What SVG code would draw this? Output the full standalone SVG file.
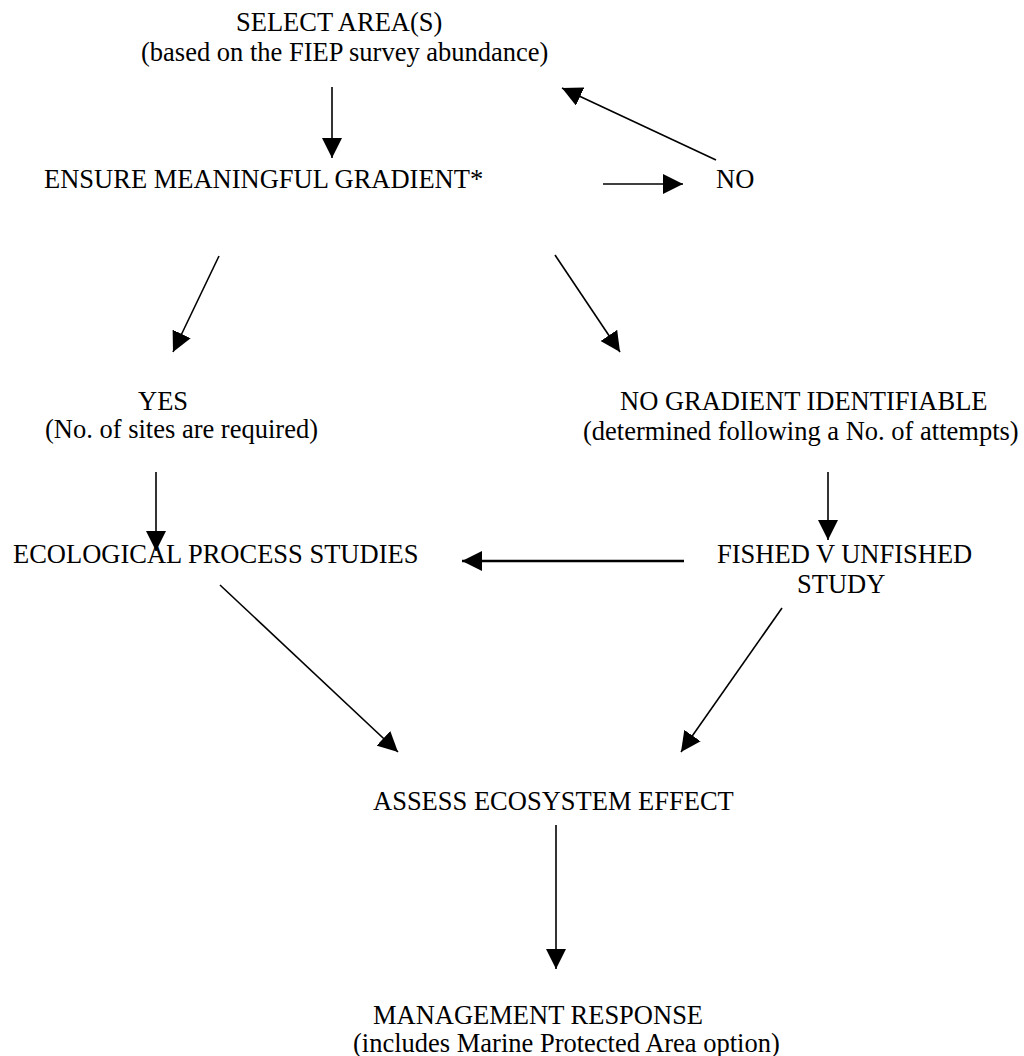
<svg xmlns="http://www.w3.org/2000/svg" width="1024" height="1056" viewBox="0 0 1024 1056">
<style>
  text { font-family: "Liberation Serif", "Times New Roman", serif; font-size: 26.5px; fill: #000; }
  .c { stroke: #000; stroke-width: 1.6; fill: none; }
  .thick { stroke-width: 2.6; }
</style>
<defs>
  <marker id="ah" markerUnits="userSpaceOnUse" markerWidth="20" markerHeight="20" refX="20" refY="10" orient="auto" viewBox="0 0 20 20">
    <path d="M0,0 L20,10 L0,20 z" fill="#000"/>
  </marker>
</defs>
<rect width="1024" height="1056" fill="#fff"/>
<g id="select">
  <text x="236" y="31">SELECT AREA(S)</text>
  <text x="141" y="61">(based on the FIEP survey abundance)</text>
</g>
<g id="ensure">
  <text x="44" y="188">ENSURE MEANINGFUL GRADIENT*</text>
</g>
<g id="no">
  <text x="716" y="188">NO</text>
</g>
<g id="yes">
  <text x="138" y="410">YES</text>
  <text x="45" y="438">(No. of sites are required)</text>
</g>
<g id="nogradient">
  <text x="620" y="410">NO GRADIENT IDENTIFIABLE</text>
  <text x="583" y="440">(determined following a No. of attempts)</text>
</g>
<g id="ecological">
  <text x="13" y="563">ECOLOGICAL PROCESS STUDIES</text>
</g>
<g id="fished">
  <text x="717" y="563">FISHED V UNFISHED</text>
  <text x="797" y="593">STUDY</text>
</g>
<g id="assess">
  <text x="373" y="810">ASSESS ECOSYSTEM EFFECT</text>
</g>
<g id="management">
  <text x="373" y="1024">MANAGEMENT RESPONSE</text>
  <text x="353" y="1052">(includes Marine Protected Area option)</text>
</g>
<g id="connectors">
  <line class="c" x1="332" y1="87" x2="332" y2="158" marker-end="url(#ah)"/>
  <line class="c" x1="603" y1="184" x2="683" y2="184" marker-end="url(#ah)"/>
  <line class="c" x1="716" y1="160" x2="562" y2="88" marker-end="url(#ah)"/>
  <line class="c" x1="219" y1="256" x2="173" y2="352" marker-end="url(#ah)"/>
  <line class="c" x1="555" y1="255" x2="620" y2="352" marker-end="url(#ah)"/>
  <line class="c" x1="156" y1="472" x2="156" y2="551" marker-end="url(#ah)"/>
  <line class="c" x1="828" y1="472" x2="828" y2="540" marker-end="url(#ah)"/>
  <line class="c thick" x1="684" y1="561" x2="462" y2="561" marker-end="url(#ah)"/>
  <line class="c" x1="220" y1="585" x2="398" y2="752" marker-end="url(#ah)"/>
  <line class="c" x1="782" y1="608" x2="681" y2="752" marker-end="url(#ah)"/>
  <line class="c" x1="556" y1="825" x2="556" y2="969" marker-end="url(#ah)"/>
</g>
</svg>
